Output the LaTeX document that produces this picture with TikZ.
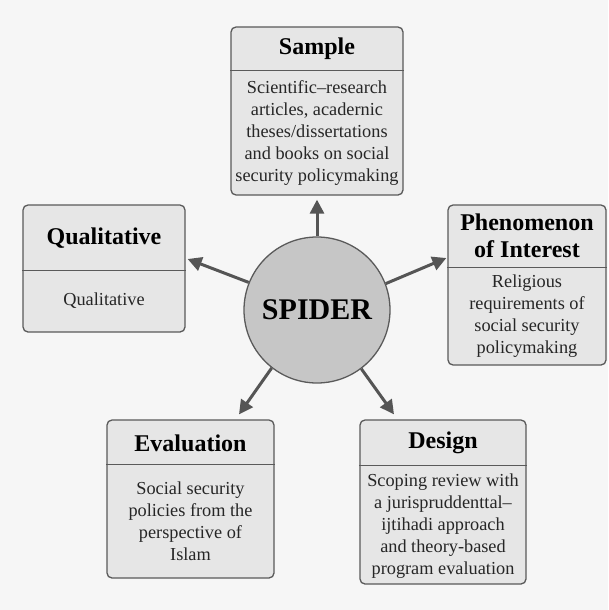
\documentclass[tikz,border=0pt]{standalone}
\usepackage{fontspec}
\setmainfont{Liberation Serif}
\usetikzlibrary{arrows.meta,calc}
\definecolor{bg}{HTML}{F6F6F6}
\definecolor{edge}{HTML}{5A5A5A}
\definecolor{boxfill}{HTML}{E6E6E6}
\definecolor{circfill}{HTML}{C6C6C6}
\definecolor{arrowcol}{HTML}{555555}
\tikzset{
  box/.style={draw=edge, fill=boxfill, rounded corners=5pt, line width=1.3pt, inner sep=0pt},
  divider/.style={draw=edge, line width=1.3pt},
  head/.style={align=center, inner sep=0pt, font=\rmfamily\fontsize{24}{27}\selectfont\bfseries, text=black},
  body/.style={align=center, inner sep=0pt, font=\rmfamily\fontsize{18.3}{22}\selectfont, text=black!85},
  arr/.style={draw=arrowcol, line width=3pt, -{Triangle[length=14pt,width=14pt]}}
}
\begin{document}
\begin{tikzpicture}[x=1pt,y=-1pt]
\fill[bg] (0,0) rectangle (608,610);
\useasboundingbox (0,0) rectangle (608,610);

% boxes
\node[box, minimum width=172pt, minimum height=168pt] (sample) at (317,111) {};
\node[box, minimum width=162pt, minimum height=127pt] (qual) at (104,268.5) {};
\node[box, minimum width=158pt, minimum height=160pt] (phen) at (527,285) {};
\node[box, minimum width=167pt, minimum height=158pt] (eval) at (190.5,499) {};
\node[box, minimum width=166pt, minimum height=164pt] (design) at (443,502) {};

% dividers
\draw[divider] ($(sample.north west)+(0,44)$) -- ($(sample.north east)+(0,44)$);
\draw[divider] ($(qual.north west)+(0,66)$) -- ($(qual.north east)+(0,66)$);
\draw[divider] ($(phen.north west)+(0,63)$) -- ($(phen.north east)+(0,63)$);
\draw[divider] ($(eval.north west)+(0,45)$) -- ($(eval.north east)+(0,45)$);
\draw[divider] ($(design.north west)+(0,46)$) -- ($(design.north east)+(0,46)$);

% headers
\node[head] (sampleh) at (317,49) {Sample};
\node[head] (qualh) at (104,238) {Qualitative};
\node[head] (phenh) at (527,236) {Phenomenon\\of Interest};
\node[head] (evalh) at (190.5,443) {Evaluation};
\node[head] (designh) at (443,443) {Design};

% bodies
\node[body] (sampleb) at (317,133) {Scientific–research\\articles, acadernic\\theses/dissertations\\and books on social\\security policymaking};
\node[body] (qualb) at (104,301) {Qualitative};
\node[body] (phenb) at (527,316) {Religious\\requirements of\\social security\\policymaking};
\node[body] (evalb) at (190.5,521) {Social security\\policies from the\\perspective of\\Islam};
\node[body] (designb) at (443,526) {Scoping review with\\a jurispruddenttal–\\ijtihadi approach\\and theory-based\\program evaluation};

% centre
\node[circle, draw=edge, fill=circfill, line width=1.3pt, minimum size=146pt, inner sep=0pt,
      font=\rmfamily\fontsize{30}{36}\selectfont\bfseries] (spider) at (317,310) {SPIDER};

% arrows
\draw[arr] (spider.north) -- ($(sample.south)+(0,4)$);
\draw[arr] (spider.158.6) -- ($(qual.east)+(2,-9.5)$);
\draw[arr] (spider.21.7) -- ($(phen.west)+(-1,-27)$);
\draw[arr] (spider.232.7) -- ($(eval.north)+(48.5,-5)$);
\draw[arr] (spider.307.3) -- ($(design.north)+(-49,-5)$);
\end{tikzpicture}
\end{document}
